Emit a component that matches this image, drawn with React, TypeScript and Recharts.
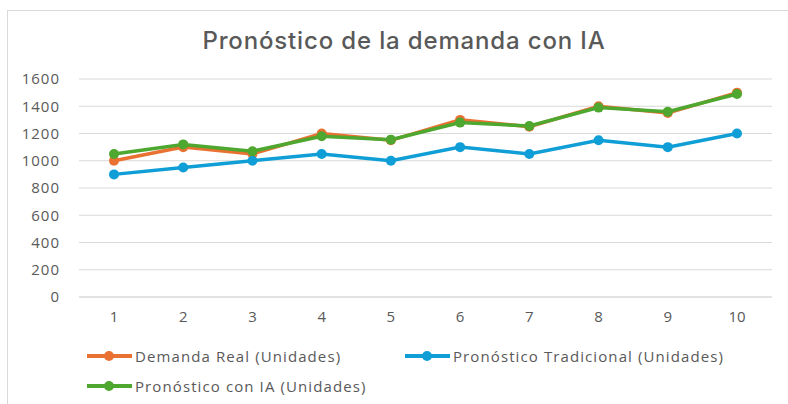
import { LineChart, Line, XAxis, YAxis, CartesianGrid } from 'recharts';

const periods = ['1', '2', '3', '4', '5', '6', '7', '8', '9', '10'];
const demandaReal = [1000, 1100, 1050, 1200, 1150, 1300, 1250, 1400, 1350, 1500];
const pronosticoTradicional = [900, 950, 1000, 1050, 1000, 1100, 1050, 1150, 1100, 1200];
const pronosticoIA = [1050, 1120, 1070, 1180, 1155, 1280, 1255, 1390, 1360, 1490];
const yTicks = [0, 200, 400, 600, 800, 1000, 1200, 1400, 1600];

const series = [
  { key: 'real', name: 'Demanda Real (Unidades)', color: '#E97132' },
  { key: 'trad', name: 'Pronóstico Tradicional (Unidades)', color: '#0F9ED5' },
  { key: 'ia', name: 'Pronóstico con IA (Unidades)', color: '#4EA72E' },
];

const data = periods.map((p, i) => ({
  period: p,
  real: demandaReal[i],
  trad: pronosticoTradicional[i],
  ia: pronosticoIA[i],
}));

const FONT = '"Open Sans", sans-serif';
const TEXT = '#595959';

function LegendItem({ name, color }: { name: string; color: string }) {
  return (
    <div style={{ display: 'flex', alignItems: 'center' }}>
      <svg width={46} height={12} style={{ marginRight: 2 }}>
        <line x1={0} y1={6} x2={45} y2={6} stroke={color} strokeWidth={4} />
        <circle cx={22} cy={6} r={5} fill={color} />
      </svg>
      <span style={{ fontSize: 15, color: TEXT, fontFamily: FONT, letterSpacing: 1.1 }}>{name}</span>
    </div>
  );
}

export default function App() {
  return (
    <div style={{ position: 'absolute', left: 0, top: 0, width: 788, height: 404, background: '#fff', overflow: 'hidden' }}>
      <div
        style={{
          position: 'absolute',
          left: 7,
          top: 10,
          width: 800,
          height: 400,
          border: '1px solid #d9d9d9',
        }}
      />
      <div
        style={{
          position: 'absolute',
          top: 26,
          left: 0,
          width: 808,
          textAlign: 'center',
          fontFamily: 'Inter, sans-serif',
          fontSize: 24,
          fontWeight: 500,
          letterSpacing: 0.85,
          color: TEXT,
        }}
      >
        Pronóstico de la demanda con IA
      </div>
      <div style={{ position: 'absolute', left: 0, top: 0 }}>
        <LineChart
          width={788}
          height={404}
          data={data}
          margin={{ top: 79, right: 16, bottom: 77, left: 0 }}
        >
          <CartesianGrid stroke="#d9d9d9" vertical={false} />
          <XAxis
            dataKey="period"
            axisLine={{ stroke: '#d9d9d9' }}
            tickLine={false}
            height={30}
            padding={{ left: 35, right: 35 }}
            tickMargin={8}
            tick={{ fontSize: 15, fill: TEXT, fontFamily: FONT }}
          />
          <YAxis
            domain={[0, 1600]}
            ticks={yTicks}
            width={79}
            axisLine={false}
            tickLine={false}
            tickMargin={13}
            tick={{ fontSize: 15, fill: TEXT, fontFamily: FONT, letterSpacing: 1 }}
          />
          {series.map((s) => (
            <Line
              key={s.key}
              dataKey={s.key}
              name={s.name}
              stroke={s.color}
              strokeWidth={3.5}
              dot={{ r: 5, fill: s.color, stroke: s.color, strokeWidth: 0 }}
              isAnimationActive={false}
            />
          ))}
        </LineChart>
      </div>
      <div style={{ position: 'absolute', left: 87, top: 346 }}>
        <LegendItem name={series[0].name} color={series[0].color} />
      </div>
      <div style={{ position: 'absolute', left: 405, top: 346 }}>
        <LegendItem name={series[1].name} color={series[1].color} />
      </div>
      <div style={{ position: 'absolute', left: 87, top: 376 }}>
        <LegendItem name={series[2].name} color={series[2].color} />
      </div>
    </div>
  );
}
